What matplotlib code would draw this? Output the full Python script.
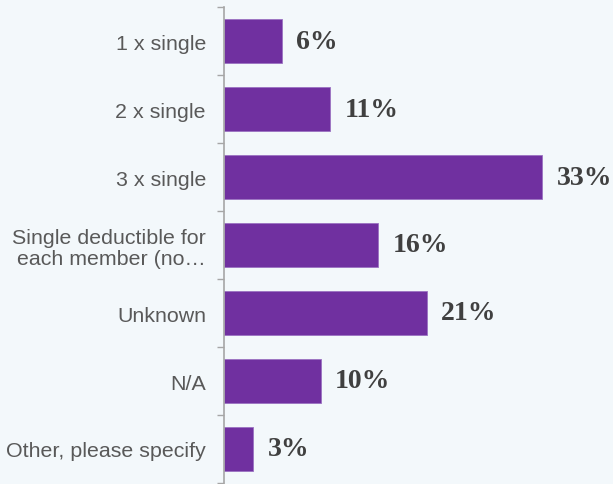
import matplotlib
matplotlib.use("Agg")
import matplotlib.pyplot as plt
import numpy as np

categories = [
    "1 x single",
    "2 x single",
    "3 x single",
    "Single deductible for\neach member (no\u2026",
    "Unknown",
    "N/A",
    "Other, please specify",
]
values = [6, 11, 33, 16, 21, 10, 3]
labels = ["6%", "11%", "33%", "16%", "21%", "10%", "3%"]

bg = "#F3F8FB"
bar_color = "#7030A0"

fig = plt.figure(figsize=(6.13, 4.85), dpi=100, facecolor=bg)
ax = fig.add_axes([224 / 613, 1 / 485, (610 - 224) / 613, (477 - 1) / 485], facecolor=bg)

y = np.arange(len(categories))
ax.barh(y, values, height=0.65, color=bar_color, edgecolor="#9B72C2", linewidth=0.6)
ax.set_ylim(len(categories) - 0.5, -0.5)
ax.set_xlim(0, 40)

for yi, v, lab in zip(y, values, labels):
    ax.text(v + 1.5, yi, lab, va="center", ha="left",
            fontfamily="Liberation Serif", fontweight="bold",
            fontsize=20, color="#404040")

ax.set_yticks(y)
ax.set_yticklabels(categories, fontfamily="Liberation Sans", fontsize=15.4,
                   color="#595959", linespacing=1.15)
ax.tick_params(axis="y", length=0, pad=13)
# tick marks at category boundaries
ax.set_yticks(np.arange(-0.5, len(categories), 1), minor=True)
ax.tick_params(axis="y", which="minor", length=5, width=1, color="#A6A6A6")
ax.set_xticks([])

for s in ["top", "right", "bottom"]:
    ax.spines[s].set_visible(False)
ax.spines["left"].set_color("#A6A6A6")
ax.spines["left"].set_linewidth(1.2)

fig.savefig("out.png", dpi=100, facecolor=bg)
